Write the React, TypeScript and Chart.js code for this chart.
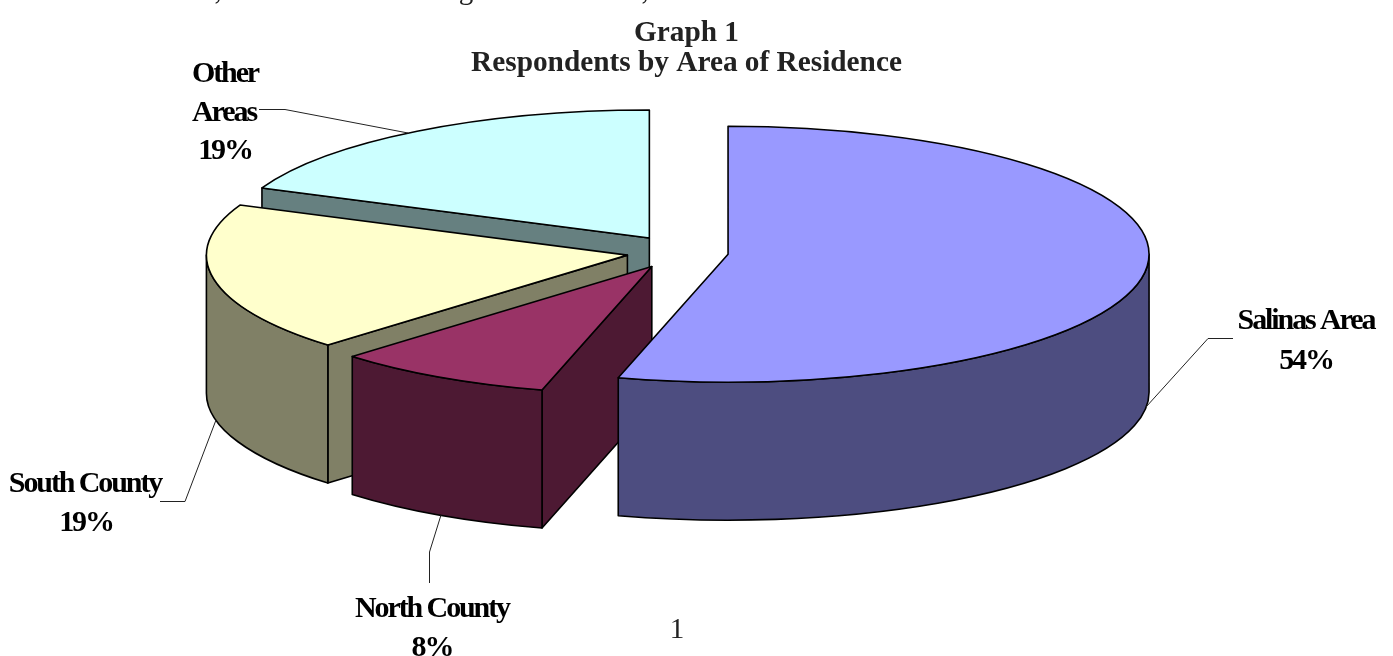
import React, { useEffect, useRef } from "react";
import { Chart, registerables } from "chart.js";

Chart.register(...registerables);

const categories = ["Salinas Area", "North County", "South County", "Other Areas"];
const values = [54.2, 8.4, 18.8, 18.6];
const topColors = ["#9999FF", "#993366", "#FFFFCC", "#CCFFFF"];
const wallColors = ["#4D4D80", "#4D1933", "#808066", "#668080"];
const drawOrder = [3, 2, 1, 0];
const titleLines = ["Graph 1", "Respondents by Area of Residence"];

const SERIF = '"Liberation Serif", serif';
const RADIUS = 300;
const RX = 421;
const RY = 128;
const CX = 677.5;
const CY = 252;
const DEPTH = 138;
const EXPLODE = 51;

const labelTexts: [string, number, number][] = [
  ["Salinas Area", 1306, 321.5],
  ["54%", 1306, 361.5],
  ["North County", 432, 609.5],
  ["8%", 432, 648.5],
  ["South County", 85, 484.5],
  ["19%", 86, 523.5],
  ["Other", 225, 74.5],
  ["Areas", 224, 113.5],
  ["19%", 225, 151.5],
];
const clippedHeader: [string, number][] = [
  [",", 218],
  ["g", 466],
  [",", 645],
];
const leaders: [number, number][][] = [
  [[1233, 338.5], [1208, 338.5], [1146, 407]],
  [[441, 515], [429.5, 552], [429.5, 583]],
  [[160, 501.5], [185, 501.5], [216, 420]],
  [[259, 109.5], [285, 109.5], [408, 133]],
];

const pie3d = {
  id: "pie3d",
  beforeDatasetDraw(chart: any) {
    const ctx = chart.ctx as CanvasRenderingContext2D;
    const meta = chart.getDatasetMeta(0);
    drawOrder.forEach((i) => {
      const el = meta.data[i];
      const R = el.outerRadius;
      const start = el.startAngle;
      const end = el.endAngle;
      const mid = (start + end) / 2;
      const ox = CX + Math.cos(mid) * EXPLODE;
      const oy = CY + Math.sin(mid) * EXPLODE * (RY / RX) * 1.08;
      ctx.save();
      ctx.lineWidth = 1.6;
      ctx.strokeStyle = "#000";
      ctx.lineJoin = "round";
      ctx.fillStyle = wallColors[i];

      // cut faces turned towards the viewer
      const face = (a: number) => {
        const x = ox + Math.cos(a) * RX;
        const y = oy + Math.sin(a) * RY;
        ctx.beginPath();
        ctx.moveTo(ox, oy);
        ctx.lineTo(x, y);
        ctx.lineTo(x, y + DEPTH);
        ctx.lineTo(ox, oy + DEPTH);
        ctx.closePath();
        ctx.fill();
        ctx.stroke();
      };
      if (Math.cos(start) < -1e-6) face(start);
      if (Math.cos(end) > 1e-6) face(end);

      // curved outer wall, front half only
      const a0 = Math.max(start, 0);
      const a1 = Math.min(end, Math.PI);
      if (a1 > a0) {
        ctx.beginPath();
        ctx.ellipse(ox, oy, RX, RY, 0, a0, a1);
        ctx.ellipse(ox, oy + DEPTH, RX, RY, 0, a1, a0, true);
        ctx.closePath();
        ctx.fill();
        ctx.stroke();
      }

      // top face drawn by the library's arc element
      ctx.save();
      ctx.translate(ox, oy);
      ctx.scale(RX / R, RY / R);
      ctx.translate(-el.x, -el.y);
      el.draw(ctx);
      ctx.restore();

      ctx.beginPath();
      ctx.moveTo(ox, oy);
      ctx.ellipse(ox, oy, RX, RY, 0, start, end);
      ctx.closePath();
      ctx.stroke();
      ctx.restore();
    });
    return false;
  },
  afterDraw(chart: any) {
    const ctx = chart.ctx as CanvasRenderingContext2D;
    ctx.save();
    ctx.strokeStyle = "#222";
    ctx.lineWidth = 1;
    leaders.forEach((pts) => {
      ctx.beginPath();
      pts.forEach(([x, y], k) => (k ? ctx.lineTo(x, y) : ctx.moveTo(x, y)));
      ctx.stroke();
    });
    ctx.fillStyle = "#000";
    ctx.textAlign = "center";
    ctx.textBaseline = "middle";
    ctx.font = `bold 30px ${SERIF}`;
    (ctx as any).letterSpacing = "-2.1px";
    labelTexts.forEach(([t, x, y]) => ctx.fillText(t, x, y));
    (ctx as any).letterSpacing = "0px";
    ctx.font = `29px ${SERIF}`;
    ctx.fillStyle = "#222";
    ctx.fillText("1", 677, 630);
    ctx.textBaseline = "alphabetic";
    clippedHeader.forEach(([t, x]) => ctx.fillText(t, x, -1));
    ctx.restore();
  },
};

export default function App() {
  const ref = useRef<HTMLCanvasElement>(null);
  useEffect(() => {
    document.body.style.margin = "0";
    document.body.style.background = "#fff";
    const chart = new Chart(ref.current!, {
      type: "pie",
      data: {
        labels: categories,
        datasets: [
          {
            data: values,
            backgroundColor: topColors,
            borderWidth: 0,
            radius: RADIUS,
          } as any,
        ],
      },
      options: {
        responsive: false,
        animation: false,
        layout: { padding: { right: 20, top: 0 } },
        plugins: {
          legend: { display: false },
          tooltip: { enabled: false },
          title: {
            display: true,
            text: titleLines,
            color: "#222",
            padding: { top: 19, bottom: 0 },
            font: { family: SERIF, weight: "bold", size: 29.3, lineHeight: 1 },
          },
        },
      },
      plugins: [pie3d],
    } as any);
    return () => chart.destroy();
  }, []);
  return <canvas ref={ref} width={1393} height={656} style={{ display: "block" }} />;
}
